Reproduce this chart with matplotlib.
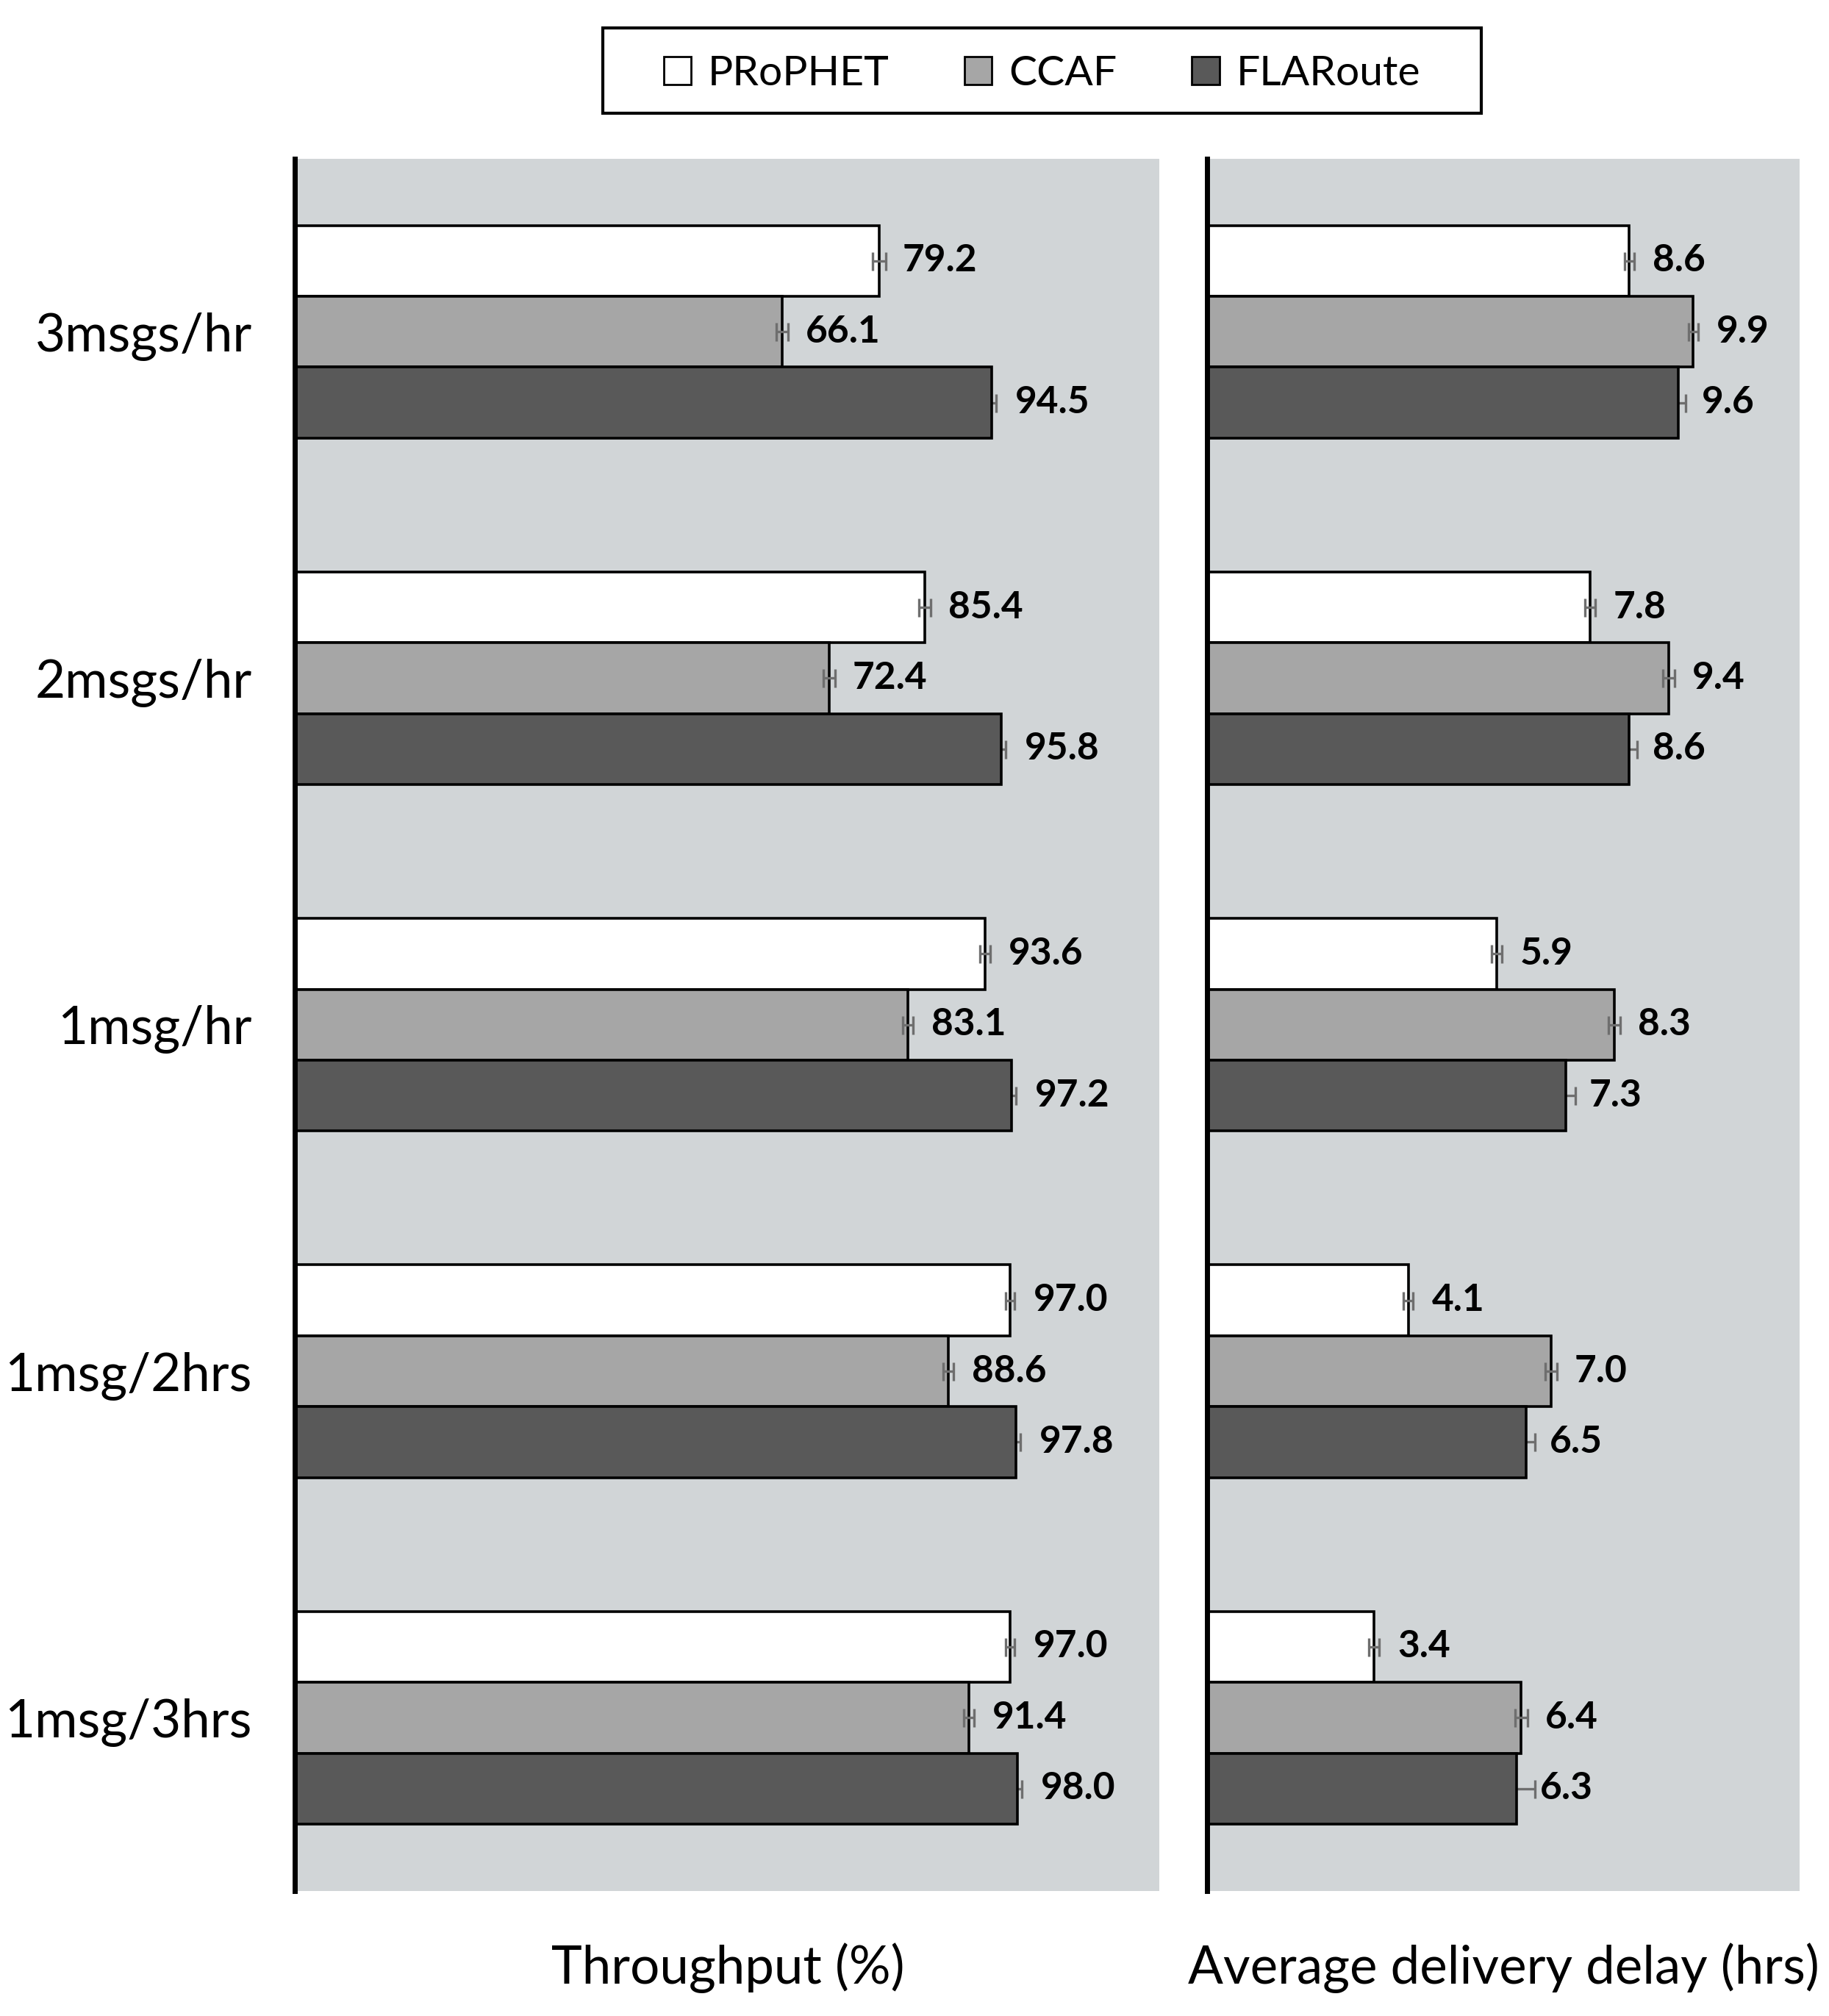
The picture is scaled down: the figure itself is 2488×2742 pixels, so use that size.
import numpy as np
import matplotlib
matplotlib.use('Agg')
import matplotlib.pyplot as plt
from matplotlib.patches import Patch, Rectangle

plt.rcParams['font.family'] = ['Lato', 'DejaVu Sans']

categories = ['3msgs/hr', '2msgs/hr', '1msg/hr', '1msg/2hrs', '1msg/3hrs']
series = ['PRoPHET', 'CCAF', 'FLARoute']

# throughput (%)
thr_prophet = [79.2, 85.4, 93.6, 97.0, 97.0]
thr_ccaf = [66.1, 72.4, 83.1, 88.6, 91.4]
thr_flaroute = [94.5, 95.8, 97.2, 97.8, 98.0]
thr_err_prophet = [0.9, 0.8, 0.7, 0.6, 0.6]
thr_err_ccaf = [0.8, 0.8, 0.7, 0.7, 0.7]
thr_err_flaroute = [0.6, 0.6, 0.6, 0.6, 0.6]

# average delivery delay (hrs)
del_prophet = [8.6, 7.8, 5.9, 4.1, 3.4]
del_ccaf = [9.9, 9.4, 8.3, 7.0, 6.4]
del_flaroute = [9.6, 8.6, 7.3, 6.5, 6.3]
del_err_prophet = [0.1, 0.1, 0.1, 0.1, 0.1]
del_err_ccaf = [0.1, 0.12, 0.12, 0.12, 0.12]
del_err_flaroute = [0.15, 0.15, 0.2, 0.17, 0.37]

colors = ['#ffffff', '#a6a6a6', '#595959']
bg = '#d1d5d7'
bar_h = 0.2045

fig = plt.figure(figsize=(24.88, 27.42), dpi=100)
ax1 = fig.add_axes([0.1613, 0.062, 0.4725, 0.8594])
ax2 = fig.add_axes([0.6599, 0.062, 0.3239, 0.8594])

y = np.arange(len(categories))


def draw_panel(ax, vals, errs, xmax):
    ax.set_facecolor(bg)
    for k, (v, e) in enumerate(zip(vals, errs)):
        pos = y + (k - 1) * bar_h
        ax.barh(pos, v, height=bar_h, color=colors[k], edgecolor='black',
                linewidth=2.6, zorder=2)
        # dark bars hide the inner half of their error bars
        ez = 1.5 if k == 2 else 3
        ax.errorbar(v, pos, xerr=e, fmt='none', ecolor='#6e6e6e',
                    elinewidth=2.4, capsize=9, capthick=2.4, zorder=ez)
        for yy, vv in zip(pos, v):
            ax.annotate('%.1f' % vv, (vv, yy), xytext=(23, 0),
                        textcoords='offset points', ha='left', va='center',
                        fontsize=37, fontweight='bold', color='black')
    ax.set_xlim(0, xmax)
    ax.set_ylim(len(categories) - 0.5, -0.5)
    ax.set_xticks([])
    for s in ['top', 'right', 'bottom']:
        ax.spines[s].set_visible(False)
    ax.spines['left'].set_linewidth(5)
    ax.spines['left'].set_color('black')


draw_panel(ax1, [thr_prophet, thr_ccaf, thr_flaroute],
           [thr_err_prophet, thr_err_ccaf, thr_err_flaroute], 117.2)
draw_panel(ax2, [del_prophet, del_ccaf, del_flaroute],
           [del_err_prophet, del_err_ccaf, del_err_flaroute], 12.06)

ax1.set_yticks(y)
ax1.set_yticklabels(categories, fontsize=51)
ax1.tick_params(axis='y', length=0, pad=42)
ax2.set_yticks([])

fig.text(0.398, 0.024, 'Throughput (%)', ha='center', va='center', fontsize=51)
fig.text(0.822, 0.024, 'Average delivery delay (hrs)', ha='center',
         va='center', fontsize=51)

# legend box
fig.patches.append(Rectangle((0.3296, 0.9438), 0.4803, 0.0422,
                             transform=fig.transFigure, facecolor='white',
                             edgecolor='black', linewidth=3, zorder=0))
handles = [Patch(facecolor=c, edgecolor='black', linewidth=2) for c in colors]
fig.legend(handles, series, loc='center', bbox_to_anchor=(0.5697, 0.9635),
           ncol=3, frameon=False, fontsize=41, handlelength=0.65,
           handleheight=0.65, handletextpad=0.4, columnspacing=1.8)

fig.savefig('out.png', dpi=100)
